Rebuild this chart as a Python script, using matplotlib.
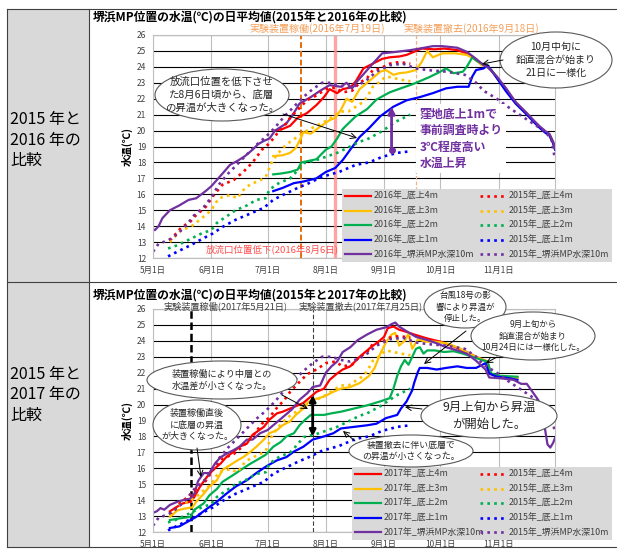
import matplotlib
matplotlib.use("Agg")
import matplotlib.pyplot as plt
from matplotlib.patches import Ellipse, Rectangle

plt.rcParams['font.family'] = ['Noto Sans CJK JP', 'DejaVu Sans']

# ---------------- data (day 0 = May 1) ----------------
month_days = [0, 31, 61, 92, 123, 153, 184]
month_labels = ['5月1日', '6月1日', '7月1日', '8月1日', '9月1日', '10月1日', '11月1日']

# 2015 (dotted, shared by both panels)
d15_10m = [0, 3, 8, 13, 18, 22, 27, 31, 35, 40, 45, 50, 55, 60, 65, 70, 75, 80, 85, 90, 95, 100, 105, 110, 114, 119, 126, 133, 140, 146, 156, 166, 172, 176, 183, 190, 199, 208, 212, 214]
v15_10m = [12.4, 12.9, 13.1, 13.5, 14.1, 14.7, 15.2, 15.8, 16.6, 17.3, 17.9, 18.5, 19.1, 19.6, 20.2, 20.9, 21.5, 22.1, 22.6, 23.0, 23.0, 22.8, 22.7, 22.9, 23.2, 23.7, 24.1, 24.2, 23.9, 23.8, 23.7, 23.5, 23.0, 22.5, 22.0, 21.4, 20.7, 20.0, 19.5, 18.2]
d15_4m = [9, 15, 20, 23, 28, 32, 37, 43, 48, 53, 58, 62, 66, 70, 73, 77, 82, 87, 92, 97, 101, 106, 110, 114, 117, 121, 126, 131, 137]
v15_4m = [13.1, 13.9, 14.3, 14.7, 15.2, 15.9, 16.6, 16.9, 17.4, 18.0, 18.8, 19.2, 19.8, 20.3, 20.8, 21.3, 21.9, 22.2, 22.6, 22.7, 22.4, 22.5, 23.0, 23.3, 23.8, 23.9, 24.2, 24.3, 24.2]
d15_3m = [9, 15, 20, 25, 31, 35, 41, 45, 49, 53, 56, 60, 63, 66, 70, 73, 78, 82, 87, 92, 96, 100, 104, 108, 112, 114, 117, 120, 124, 128, 132, 137]
v15_3m = [13.0, 13.75, 13.95, 14.4, 15.0, 15.75, 15.95, 15.75, 16.4, 16.7, 16.8, 17.1, 17.95, 18.5, 19.0, 19.3, 19.7, 20.0, 20.3, 20.6, 20.9, 21.2, 21.2, 21.5, 21.8, 22.1, 22.75, 23.0, 23.4, 23.3, 23.2, 23.1]
d15_2m = [8, 13, 20, 26, 31, 34, 39, 44, 50, 55, 60, 62, 67, 73, 77, 80, 87, 92, 98, 105, 110, 114, 121, 130, 137]
v15_2m = [12.6, 12.8, 13.2, 13.55, 13.75, 14.2, 14.6, 15.0, 15.3, 15.65, 15.75, 16.3, 16.7, 17.0, 17.5, 17.95, 18.15, 18.35, 18.6, 19.0, 19.3, 19.45, 19.9, 20.6, 21.0]
d15_1m = [8, 13, 20, 27, 32, 37, 44, 52, 59, 64, 69, 77, 83, 90, 99, 108, 115, 122, 130, 137]
v15_1m = [12.1, 12.4, 12.8, 13.25, 13.55, 13.95, 14.4, 14.8, 15.15, 15.65, 15.95, 16.4, 16.7, 17.1, 17.4, 17.85, 18.0, 18.35, 18.6, 18.7]

# 2016 (solid, top panel)
d16_10m = [0, 1, 3, 5, 9, 14, 19, 23, 28, 31, 34, 37, 41, 45, 49, 53, 56, 59, 62, 65, 71, 75, 78, 84, 89, 94, 100, 103, 106, 108, 114, 117, 122, 130, 137, 142, 149, 154, 162, 167, 172, 176, 178, 183, 188, 193, 199, 203, 206, 209, 211, 213, 214]
v16_10m = [13.8, 13.75, 14.0, 14.5, 15.0, 15.3, 15.65, 15.75, 16.2, 16.5, 16.9, 17.3, 17.85, 18.1, 18.4, 18.8, 19.15, 19.35, 19.5, 20.0, 20.45, 21.1, 21.7, 22.1, 22.5, 22.85, 22.75, 23.0, 22.65, 23.0, 23.8, 24.2, 24.85, 24.95, 25.05, 25.15, 25.3, 25.3, 25.2, 24.95, 24.5, 24.1, 24.0, 23.4, 22.65, 21.8, 21.1, 20.6, 20.25, 19.95, 19.8, 19.3, 18.9]
desc16_d = [178, 180, 183, 188, 193, 199, 203, 206, 209, 211, 213, 214]
desc16_v = [24.0, 23.8, 23.35, 22.55, 21.75, 21.05, 20.55, 20.2, 19.9, 19.75, 19.25, 18.85]
d16_4m = [65, 69, 73, 77, 82, 87, 91, 94, 98, 101, 105, 108, 112, 117, 122, 126, 131, 135, 138, 143, 150, 155, 162, 167, 172, 176] + desc16_d
v16_4m = [20.0, 20.1, 20.3, 20.8, 21.1, 21.6, 22.1, 22.6, 22.35, 22.6, 22.7, 23.1, 23.9, 24.2, 24.5, 24.6, 24.65, 24.75, 24.9, 25.15, 25.1, 25.15, 25.05, 24.85, 24.45, 24.1] + desc16_v
d16_3m = [64, 69, 73, 76, 79, 80, 84, 89, 94, 97, 100, 103, 106, 110, 113, 117, 121, 124, 128, 131, 135, 140, 143, 146, 149, 154, 161, 167, 171, 175] + desc16_d
v16_3m = [18.4, 18.45, 18.6, 18.9, 19.6, 19.9, 19.8, 20.25, 20.65, 20.8, 21.3, 22.0, 21.8, 22.6, 22.9, 23.3, 23.7, 23.8, 23.5, 23.6, 23.65, 23.8, 24.3, 25.0, 24.6, 24.85, 24.85, 24.75, 24.5, 24.1] + desc16_v
d16_2m = [64, 68, 73, 77, 79, 83, 87, 92, 95, 98, 101, 104, 108, 114, 119, 126, 133, 138, 144, 147, 153, 156, 160, 163, 165, 167, 170, 172, 175] + desc16_d
v16_2m = [17.25, 17.3, 17.4, 17.55, 18.0, 18.1, 18.2, 18.8, 19.0, 19.5, 20.1, 20.45, 20.9, 21.35, 21.95, 22.4, 22.7, 22.9, 23.2, 23.35, 23.7, 23.9, 23.6, 23.65, 23.7, 24.0, 24.6, 24.4, 24.2] + desc16_v
d16_1m = [64, 69, 75, 80, 87, 92, 97, 101, 105, 110, 115, 121, 128, 135, 142, 149, 156, 162, 168, 170, 172, 176] + desc16_d
v16_1m = [16.2, 16.4, 16.7, 16.8, 17.0, 17.4, 17.65, 18.15, 18.8, 19.6, 20.15, 20.9, 21.5, 21.9, 22.1, 22.35, 22.65, 22.75, 22.75, 23.4, 23.8, 23.9] + [24.1, 23.8, 23.3, 22.45, 21.7, 21.0, 20.5, 20.15, 19.85, 19.7, 19.2, 18.8]

# 2017 (solid, bottom panel)
d17_10m = [0, 2, 4, 6, 9, 13, 16, 20, 22, 24, 27, 30, 33, 36, 39, 43, 46, 50, 53, 57, 61, 65, 69, 74, 78, 82, 85, 89, 92, 95, 98, 101, 105, 109, 114, 119, 124, 127, 129, 131, 135, 140, 146, 151, 156, 162, 167, 172, 177, 179, 185, 192, 196, 199, 202, 205, 207, 208.5, 210, 211.5, 213, 214]
v17_10m = [13.2, 13.3, 13.5, 13.4, 13.7, 13.9, 14.0, 14.1, 14.4, 15.2, 15.7, 15.7, 16.3, 16.7, 16.9, 17.15, 17.35, 17.8, 17.8, 18.2, 18.4, 18.8, 19.2, 19.7, 20.3, 20.7, 21.1, 21.2, 22.0, 22.4, 22.7, 23.3, 23.6, 24.05, 24.4, 24.7, 24.85, 25.05, 25.15, 24.9, 24.6, 24.25, 24.05, 23.85, 23.6, 23.4, 23.2, 22.75, 22.2, 21.7, 21.65, 21.55, 21.3, 21.3, 20.8, 20.3, 19.7, 18.6, 17.5, 17.3, 17.6, 17.9]
d17_4m = [9, 13, 16, 20, 22, 25, 29, 32, 36, 39, 43, 46, 50, 53, 59, 62, 66, 69, 75, 80, 84, 87, 91, 94, 98, 101, 105, 110, 116, 120, 123, 125, 128, 131, 134, 139, 146, 153, 160, 167, 172, 176, 178, 180, 185, 194]
v17_4m = [13.3, 13.6, 13.8, 13.9, 14.2, 14.85, 15.5, 15.9, 16.3, 16.7, 17.05, 17.35, 17.55, 18.1, 18.6, 19.05, 19.45, 19.55, 19.85, 20.1, 20.5, 20.8, 21.0, 21.55, 21.95, 22.2, 22.4, 23.0, 23.6, 23.95, 24.25, 24.8, 24.9, 24.7, 24.6, 24.4, 24.15, 23.95, 23.65, 23.3, 23.0, 22.8, 22.7, 21.9, 21.75, 21.7]
d17_3m = [9, 13, 16, 21, 23, 27, 30, 34, 37, 41, 45, 48, 52, 55, 59, 62, 66, 69, 73, 76, 80, 82, 85, 91, 96, 100, 105, 110, 115, 118, 121, 124, 127, 129, 131, 134, 136, 138, 141, 145, 150, 156, 163, 170, 176, 178, 180, 185, 194]
v17_3m = [12.95, 13.35, 13.45, 13.55, 13.9, 14.4, 14.85, 15.25, 15.9, 16.2, 16.5, 16.7, 17.05, 17.35, 17.8, 18.2, 18.4, 18.7, 18.95, 19.35, 19.75, 20.1, 20.3, 20.5, 20.8, 21.0, 21.1, 21.35, 21.8, 22.3, 23.2, 23.9, 24.4, 24.5, 23.7, 24.0, 24.45, 23.5, 24.1, 23.95, 23.95, 23.85, 23.55, 23.1, 22.8, 22.7, 21.9, 21.75, 21.65]
d17_2m = [9, 14, 20, 22, 27, 30, 34, 37, 43, 48, 52, 55, 60, 64, 68, 71, 75, 78, 81, 84, 87, 91, 95, 100, 107, 114, 121, 126, 128, 130, 132, 134, 136, 138, 140, 142, 144, 146, 150, 155, 160, 165, 170, 175, 178, 180, 185, 194]
v17_2m = [12.75, 12.85, 12.95, 13.4, 13.8, 14.3, 14.7, 15.15, 15.6, 16.0, 16.3, 16.5, 16.85, 17.35, 17.65, 18.0, 18.2, 18.7, 19.05, 19.35, 19.35, 19.35, 19.45, 19.55, 19.75, 19.95, 20.2, 20.4, 21.0, 21.8, 22.4, 22.8, 22.5, 23.0, 23.5, 23.6, 23.2, 23.4, 23.4, 23.3, 23.35, 23.2, 23.0, 22.8, 22.7, 21.95, 21.8, 21.75]
d17_1m = [9, 14, 20, 23, 28, 34, 39, 44, 50, 55, 60, 66, 71, 75, 80, 85, 91, 96, 100, 107, 114, 119, 124, 130, 132, 135, 138, 139, 141, 142, 146, 151, 156, 162, 167, 172, 177, 179, 183, 190, 194]
v17_1m = [12.25, 12.35, 12.75, 12.95, 13.4, 13.9, 14.4, 14.85, 15.25, 15.7, 16.1, 16.5, 16.7, 17.05, 17.35, 17.8, 18.0, 18.2, 18.5, 18.6, 18.7, 18.8, 19.15, 19.35, 19.75, 20.2, 20.9, 21.35, 22.05, 22.3, 22.3, 22.2, 22.3, 22.4, 22.3, 22.3, 22.6, 21.95, 21.75, 21.65, 21.55]

# annotation values
arrow16_day, arrow16_low, arrow16_high = 127, 18.75, 21.5
arrow17_day, arrow17_low, arrow17_high = 85, 18.0, 20.6
line16 = {'start': 79, 'outlet': 97, 'end': 140}
line17 = {'start': 20, 'end': 85}

C_RED, C_YEL, C_GRN, C_BLU, C_PUR = '#FF0000', '#FFC000', '#00B050', '#0000FF', '#7030A0'
DOT = (0, (1, 1.6))

W, H = 617, 550
fig = plt.figure(figsize=(W / 100, H / 100), dpi=100)

# background table
bg = fig.add_axes([0, 0, 1, 1], zorder=-5)
bg.set_xlim(0, W); bg.set_ylim(H, 0); bg.axis('off')
bg.add_patch(Rectangle((7, 9), 82, 538, fc='#D9D9D9', ec='none'))
for yy in (9, 282, 547):
    bg.plot([7, 617], [yy, yy], color='#404040', lw=0.8)
for xx in (7, 89):
    bg.plot([xx, xx], [9, 547], color='#404040', lw=0.8)


def fx(x):
    return x / W


def fy(y):
    return 1 - y / H


def make_ax(top):
    ax = fig.add_axes([fx(153), fy(top + 223), fx(555) - fx(153), (223) / H])
    ax.set_xlim(0, 214)
    ax.set_ylim(12, 26)
    ax.set_yticks(range(12, 27))
    ax.set_xticks(month_days)
    ax.set_xticklabels(month_labels)
    ax.set_axisbelow(True)
    ax.grid(axis='y', color='black', lw=0.8)
    ax.grid(axis='x', color='#BFBFBF', lw=0.8)
    ax.tick_params(length=0, labelsize=6, colors='#404040')
    ax.tick_params(axis='y', pad=5)
    ax.tick_params(axis='x', pad=6)
    for s in ax.spines.values():
        s.set_color('#BFBFBF')
        s.set_linewidth(0.8)
    ax.set_ylabel('水温(℃)', fontsize=7.5, fontweight='bold', labelpad=3)
    return ax


def draw(ax, solid):
    handles = []
    for (d, v, c) in solid:
        h, = ax.plot(d, v, color=c, lw=1.6, solid_joinstyle='round')
        handles.append(h)
    dotted = [(d15_4m, v15_4m, C_RED), (d15_3m, v15_3m, C_YEL), (d15_2m, v15_2m, C_GRN),
              (d15_1m, v15_1m, C_BLU), (d15_10m, v15_10m, C_PUR)]
    for (d, v, c) in dotted:
        h, = ax.plot(d, v, color=c, lw=1.9, ls=DOT)
        handles.append(h)
    return handles


def legend(ax, handles, year, x0, y0, x1, y1):
    names = ['底上4m', '底上3m', '底上2m', '底上1m', '堺浜MP水深10m']
    labels = [f'{year}年_{n}' for n in names] + [f'2015年_{n}' for n in names]
    leg = ax.legend(handles, labels, ncol=2, loc='upper left',
                    bbox_to_anchor=(fx(x0), fy(y1), fx(x1) - fx(x0), (y1 - y0) / H),
                    bbox_transform=fig.transFigure, mode='expand', fontsize=6.4,
                    facecolor='#D9D9D9', edgecolor='none', framealpha=1, fancybox=False,
                    handlelength=2.9, handletextpad=0.3, labelspacing=0.62,
                    borderaxespad=0, borderpad=0.35, columnspacing=0.8)
    for t in leg.get_texts():
        t.set_color('#404040')
    leg.set_zorder(20)


# ---------------- top panel ----------------
ax1 = make_ax(35)
ax1.axvline(line16['outlet'], color='#FF8C8C', lw=2.4, alpha=0.8, zorder=1.5)
ax1.axvline(line16['start'], color='#E46C0A', lw=1.4, ls=(0, (3, 1.5)), zorder=1.5)
ax1.axvline(line16['end'], color='#F4B183', lw=0.9, ls=(0, (3, 1.5)), zorder=1.5)
h1 = draw(ax1, [(d16_4m, v16_4m, C_RED), (d16_3m, v16_3m, C_YEL), (d16_2m, v16_2m, C_GRN),
                (d16_1m, v16_1m, C_BLU), (d16_10m, v16_10m, C_PUR)])
legend(ax1, h1, 2016, 342, 189, 612, 263)
ax1.annotate('', xy=(arrow16_day, arrow16_high), xytext=(arrow16_day, arrow16_low),
             arrowprops=dict(arrowstyle='-|>', color=C_PUR, lw=2, mutation_scale=10, shrinkA=0, shrinkB=0), zorder=8)
ax1.plot([arrow16_day], [arrow16_low], 'o', color=C_PUR, ms=4, zorder=8)
ax1.text(142, 21.45, '窪地底上1mで\n事前調査時より\n3℃程度高い\n水温上昇', color=C_PUR, fontsize=8.6,
         fontweight='bold', va='top', ha='left', linespacing=1.35, zorder=9,
         bbox=dict(fc='white', ec='none', pad=2.5))

# ---------------- bottom panel ----------------
ax2 = make_ax(309)
ax2.axvline(line17['start'], color='black', lw=1.8, ls=(0, (3, 1.5)), zorder=1.5)
ax2.axvline(line17['end'], color='#404040', lw=0.8, ls=(0, (4, 2)), zorder=1.5)
h2 = draw(ax2, [(d17_4m, v17_4m, C_RED), (d17_3m, v17_3m, C_YEL), (d17_2m, v17_2m, C_GRN),
                (d17_1m, v17_1m, C_BLU), (d17_10m, v17_10m, C_PUR)])
legend(ax2, h2, 2017, 352, 467, 612, 533)
ax2.annotate('', xy=(arrow17_day, arrow17_high), xytext=(arrow17_day, arrow17_low),
             arrowprops=dict(arrowstyle='<|-|>', color='black', lw=2, mutation_scale=9, shrinkA=0, shrinkB=0), zorder=8)

# ---------------- overlay texts / callouts ----------------
ov = fig.add_axes([0, 0, 1, 1], zorder=30)
ov.set_xlim(0, W); ov.set_ylim(H, 0); ov.axis('off'); ov.patch.set_alpha(0)

ov.text(10, 140, '2015 年と\n2016 年の\n比較', fontsize=11.5, va='center', ha='left', linespacing=1.3)
ov.text(10, 395, '2015 年と\n2017 年の\n比較', fontsize=11.5, va='center', ha='left', linespacing=1.3)

ov.text(93, 17, '堺浜MP位置の水温(℃)の日平均値(2015年と2016年の比較)', fontsize=8.5, fontweight='bold', va='center')
ov.text(93, 295, '堺浜MP位置の水温(℃)の日平均値(2015年と2017年の比較)', fontsize=8.5, fontweight='bold', va='center')

ov.text(317, 29, '実験装置稼働(2016年7月19日)', fontsize=7.2, color='#F4A05A', ha='center', va='center')
ov.text(471, 29, '実験装置撤去(2016年9月18日)', fontsize=7.2, color='#F4A05A', ha='center', va='center')
ov.text(272, 249, '放流口位置低下(2016年8月6日)', fontsize=6.8, color='#FF4F4F', ha='center', va='center')
ov.text(226, 306, '実験装置稼働(2017年5月21日)', fontsize=6.6, color='#404040', ha='center', va='center')
ov.text(361, 306, '実験装置撤去(2017年7月25日)', fontsize=6.6, color='#404040', ha='center', va='center')


def callout(cx, cy, w, h, text, fs, arrow=None, lw=0.8):
    if arrow is not None:
        (x1, y1), (x2, y2) = arrow
        ov.annotate('', xy=(x2, y2), xytext=(x1, y1),
                    arrowprops=dict(arrowstyle='->', color='black', lw=0.7, shrinkA=0, shrinkB=0))
    ov.add_patch(Ellipse((cx, cy), w, h, fc='white', ec='#595959', lw=lw))
    ov.text(cx, cy, text, fontsize=fs, ha='center', va='center', linespacing=1.35, color='#262626')


callout(222, 95, 134, 52, '放流口位置を低下させ\nた8月6日頃から、底層\nの昇温が大きくなった。', 7.5,
        arrow=((283, 114), (357, 138)))
callout(556, 60, 112, 56, '10月中旬に\n鉛直混合が始まり\n21日に一様化', 7.2, arrow=((503, 60), (482, 64)))

callout(222, 380, 150, 38, '装置稼働により中層との\n水温差が小さくなった。', 6.6, arrow=((282, 395), (308, 409)))
callout(197, 425, 88, 50, '装置稼働直後\nに底層の昇温\nが大きくなった。', 6.5, arrow=((197, 448), (201, 477)))
callout(411, 451, 124, 32, '装置撤去に伴い底層で\nの昇温が小さくなった。', 6.4, arrow=((355, 441), (343, 431)))
callout(489, 416, 136, 44, '9月上旬から昇温\nが開始した。', 8.9, arrow=((422, 409), (405, 407)))
callout(465, 307, 82, 42, '台風18号の影\n響により昇温が\n停止した。', 6.1, arrow=((466, 331), (424, 364)))
callout(533, 336, 124, 48, '9月上旬から\n鉛直混合が始まり\n10月24日には一様化した。', 6.1, arrow=((497, 357), (486, 363)))

fig.savefig('out.png', dpi=100)
